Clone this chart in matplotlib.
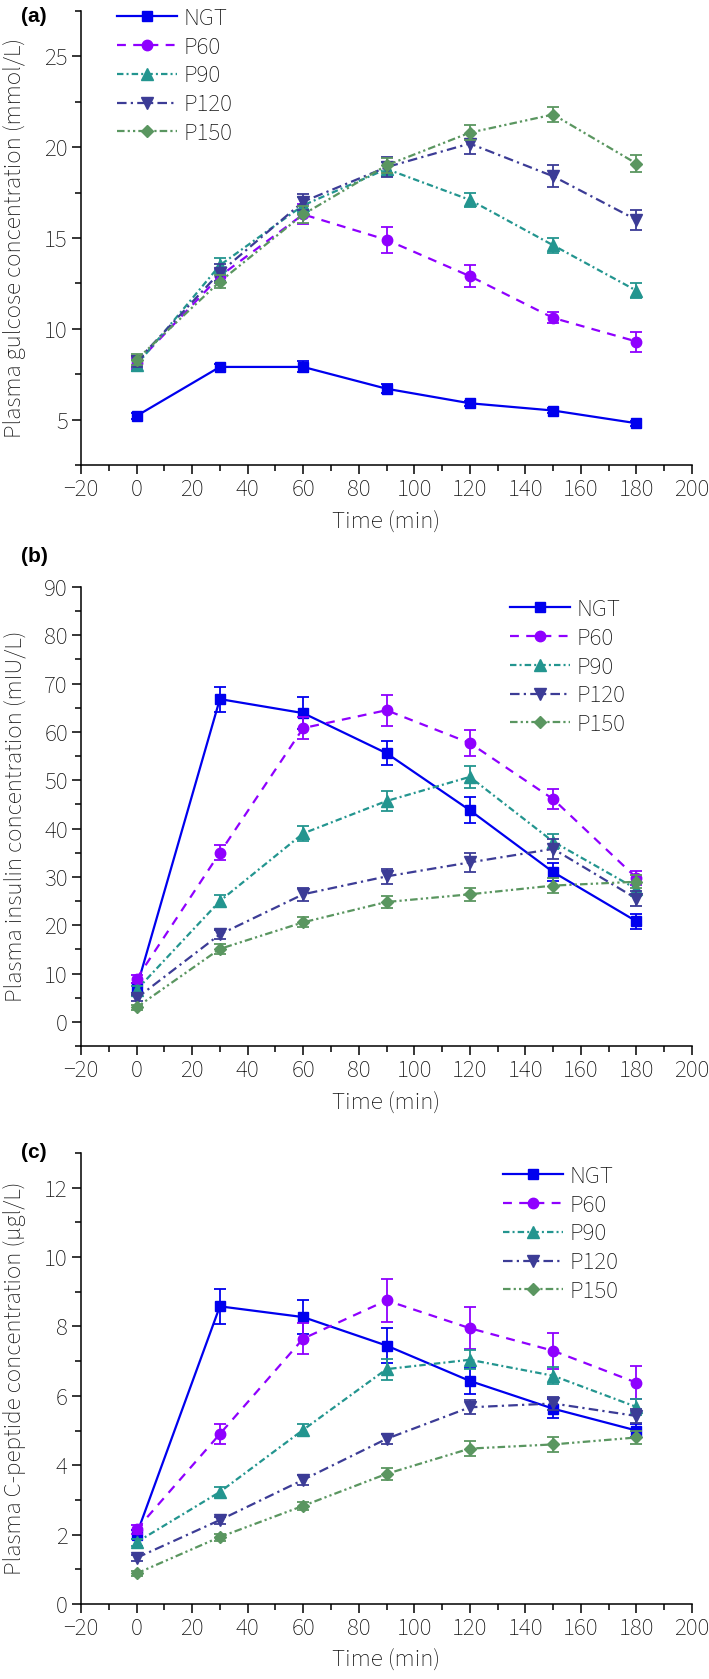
import matplotlib
matplotlib.use("Agg")
import matplotlib.pyplot as plt
from matplotlib.ticker import MultipleLocator

plt.rcParams['font.family'] = ['Source Sans 3', 'DejaVu Sans']

# sampling times (min)
time = [0, 30, 60, 90, 120, 150, 180]
groups = ['NGT', 'P60', 'P90', 'P120', 'P150']

# (a) plasma glucose, mmol/L
glu_ngt = [5.2, 7.9, 7.9, 6.7, 5.9, 5.5, 4.8]
glu_p60 = [8.1, 12.9, 16.3, 14.9, 12.9, 10.6, 9.3]
glu_p90 = [8.0, 13.5, 16.8, 18.8, 17.1, 14.6, 12.1]
glu_p120 = [8.2, 13.1, 17.0, 18.9, 20.2, 18.4, 16.0]
glu_p150 = [8.3, 12.6, 16.3, 19.0, 20.8, 21.8, 19.1]
glu_ngt_err = [0.15, 0.15, 0.3, 0.25, 0.15, 0.15, 0.15]
glu_p60_err = [0.3, 0.4, 0.55, 0.7, 0.6, 0.3, 0.55]
glu_p90_err = [0.3, 0.4, 0.45, 0.4, 0.4, 0.4, 0.4]
glu_p120_err = [0.3, 0.45, 0.45, 0.55, 0.55, 0.6, 0.55]
glu_p150_err = [0.3, 0.35, 0.45, 0.4, 0.4, 0.4, 0.45]

# (b) plasma insulin, mIU/L
ins_ngt = [7.0, 66.8, 63.9, 55.6, 43.8, 31.0, 20.8]
ins_p60 = [8.9, 35.0, 60.8, 64.5, 57.7, 46.1, 29.8]
ins_p90 = [6.6, 25.0, 39.0, 45.7, 50.7, 37.3, 27.5]
ins_p120 = [4.9, 18.1, 26.4, 30.1, 33.0, 35.8, 25.5]
ins_p150 = [3.0, 15.1, 20.6, 24.8, 26.4, 28.2, 29.0]
ins_ngt_err = [1.0, 2.6, 3.3, 2.5, 2.7, 1.8, 1.5]
ins_p60_err = [0.8, 1.5, 2.2, 3.2, 2.7, 2.0, 1.5]
ins_p90_err = [0.8, 1.3, 1.6, 2.1, 2.2, 1.5, 1.5]
ins_p120_err = [0.6, 1.0, 1.3, 1.6, 2.0, 2.0, 1.5]
ins_p150_err = [0.5, 1.0, 1.0, 1.2, 1.3, 1.5, 1.3]

# (c) plasma C-peptide, ug/L
cp_ngt = [2.0, 8.58, 8.27, 7.45, 6.43, 5.63, 5.0]
cp_p60 = [2.15, 4.9, 7.65, 8.75, 7.95, 7.3, 6.38]
cp_p90 = [1.78, 3.23, 5.02, 6.77, 7.04, 6.58, 5.68]
cp_p120 = [1.33, 2.42, 3.58, 4.76, 5.67, 5.78, 5.42]
cp_p150 = [0.88, 1.93, 2.83, 3.75, 4.48, 4.6, 4.8]
cp_ngt_err = [0.12, 0.5, 0.48, 0.5, 0.38, 0.28, 0.2]
cp_p60_err = [0.12, 0.3, 0.45, 0.62, 0.6, 0.52, 0.47]
cp_p90_err = [0.1, 0.15, 0.18, 0.3, 0.28, 0.25, 0.22]
cp_p120_err = [0.08, 0.1, 0.14, 0.15, 0.2, 0.2, 0.2]
cp_p150_err = [0.08, 0.1, 0.12, 0.18, 0.22, 0.22, 0.18]

colors = ['#0000ee', '#8f00ff', '#23958f', '#3c3c96', '#5a9660']
markers = ['s', 'o', '^', 'v', 'D']
msizes = [7.5, 7.5, 8, 8, 6.5]
styles = ['-', (0, (4, 3.3)), (0, (2.9, 1.4, 0.9, 1.4)),
          (0, (4.3, 1.9, 1, 1.9)), (0, (3.4, 1.4, 1, 1.4, 1, 1.4))]

textcol = '#111111'
fs = 18
W, H = 709, 1679
fig = plt.figure(figsize=(W / 100, H / 100), dpi=100)


def panel(top_px, bot_px, series, errs, ylim, major, minor, ylabel, tag, tag_y, leg_x, leg_y):
    ax = fig.add_axes([81 / W, 1 - bot_px / H, 611 / W, (bot_px - top_px) / H])
    for i, g in enumerate(groups):
        ax.errorbar(time, series[i], yerr=errs[i], fmt='none', ecolor=colors[i],
                    elinewidth=1.3, capsize=4, capthick=1.3, zorder=2 + i)
        ax.plot(time, series[i], color=colors[i], linestyle=styles[i], lw=1.6,
                marker=markers[i], ms=msizes[i], mec=colors[i], mfc=colors[i],
                label=g, zorder=3 + i)
    ax.set_xlim(-20, 200)
    ax.set_ylim(*ylim)
    ax.xaxis.set_major_locator(MultipleLocator(20))
    ax.xaxis.set_minor_locator(MultipleLocator(10))
    ax.yaxis.set_major_locator(MultipleLocator(major))
    ax.yaxis.set_minor_locator(MultipleLocator(minor))
    for s in ['top', 'right']:
        ax.spines[s].set_visible(False)
    for s in ['left', 'bottom']:
        ax.spines[s].set_linewidth(1.1)
    ax.tick_params(which='major', direction='out', length=6.5, width=1.1,
                   labelsize=fs, labelcolor=textcol, pad=3)
    ax.tick_params(which='minor', direction='out', length=4.5, width=1.1)
    ax.set_xlabel('Time (min)', fontsize=fs, color=textcol)
    ax.xaxis.set_label_coords(0.5, -0.1)
    ax.set_ylabel(ylabel, fontsize=fs, color=textcol)
    ax.yaxis.set_label_coords(-0.09, 0.5)
    fig.text(34 / W, 1 - tag_y / H, tag, fontsize=15, fontweight='bold',
             family=['Liberation Sans', 'DejaVu Sans'], ha='center', va='center')
    ax.legend(loc='upper left', bbox_to_anchor=(leg_x / W, 1 - leg_y / H),
              bbox_transform=fig.transFigure, frameon=False, fontsize=fs,
              handlelength=2.4, handletextpad=0.25, labelspacing=0.23,
              borderpad=0, borderaxespad=0, numpoints=1, labelcolor=textcol)
    return ax


panel(11, 465,
      [glu_ngt, glu_p60, glu_p90, glu_p120, glu_p150],
      [glu_ngt_err, glu_p60_err, glu_p90_err, glu_p120_err, glu_p150_err],
      (2.5, 27.5), 5, 2.5, 'Plasma gulcose concentration (mmol/L)', '(a)', 17, 117, 7)

panel(587, 1046,
      [ins_ngt, ins_p60, ins_p90, ins_p120, ins_p150],
      [ins_ngt_err, ins_p60_err, ins_p90_err, ins_p120_err, ins_p150_err],
      (-5, 90), 10, 5, 'Plasma insulin concentration (mIU/L)', '(b)', 557, 510, 598)

panel(1153, 1604,
      [cp_ngt, cp_p60, cp_p90, cp_p120, cp_p150],
      [cp_ngt_err, cp_p60_err, cp_p90_err, cp_p120_err, cp_p150_err],
      (0, 13), 2, 1, 'Plasma C-peptide concentration (μgl/L)', '(c)', 1152, 503, 1165)

fig.savefig('out.png', dpi=100)
